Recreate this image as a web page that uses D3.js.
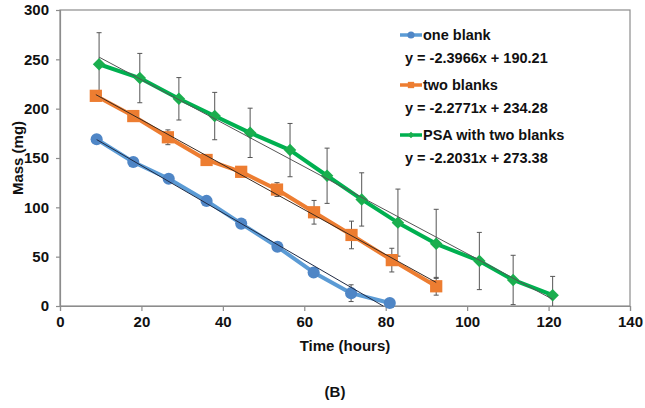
<!DOCTYPE html>
<html><head><meta charset="utf-8">
<script src="https://cdn.jsdelivr.net/npm/d3@7/dist/d3.min.js"></script>
<style>body{margin:0;background:#fff}svg{display:block}text{font-family:"Liberation Sans",Arial,sans-serif;font-weight:bold;fill:#111}</style>
</head><body><svg id="c" width="645" height="408"></svg>
<script>
// Data
const seriesNames = ["one blank", "two blanks", "PSA with two blanks"];
const equations = ["y = -2.3966x + 190.21", "y = -2.2771x + 234.28", "y = -2.2031x + 273.38"];
const slopes = [-2.3966, -2.2771, -2.2031];
const intercepts = [190.21, 234.28, 273.38];
const oneBlankX = [9, 18, 26.7, 36, 44.5, 53.4, 62.3, 71.5, 81];
const oneBlankY = [169, 146, 129, 106.5, 83.5, 60, 34, 13, 3];
const oneBlankErr = [2, 2, 2, 2, 2, 2, 3, 8.5, 2];
const twoBlanksX = [8.8, 18, 26.5, 36, 44.5, 53.3, 62.4, 71.6, 81.5, 92.4];
const twoBlanksY = [213, 192.5, 171, 148, 136, 118, 95, 72, 46.5, 20];
const twoBlanksErr = [3, 3, 7.5, 3, 3, 7, 12, 14, 12, 9];
const psaX = [9.6, 19.6, 29.2, 38, 46.7, 56.5, 65.6, 74.1, 83, 92.4, 103, 111.3, 121];
const psaY = [245, 231, 210, 192.5, 175.5, 158, 132, 108, 84.5, 63, 45.6, 26.4, 11];
const psaErr = [32, 25, 21.5, 24, 25, 27, 28, 27, 34, 35, 29, 25, 19];
const xTicks = [0, 20, 40, 60, 80, 100, 120, 140];
const yTicks = [0, 50, 100, 150, 200, 250, 300];
const trendRange = [[9, 79.4], [8.8, 92.4], [9.6, 121]];

const lineColors = ["#5b9bd5", "#ed7d31", "#00b050"];
const markColors = ["#4f86c6", "#ed7d31", "#1aae4e"];
const trendColors = ["#1f2a44", "#3a2a20", "#555"];

const svg = d3.select("#c");
const x = d3.scaleLinear().domain([0, 140]).range([60, 630]);
const y = d3.scaleLinear().domain([0, 300]).range([306, 10]);

// frame
svg.append("rect").attr("x", 60).attr("y", 10).attr("width", 570).attr("height", 296)
  .attr("fill", "none").attr("stroke", "#8c8c8c").attr("stroke-width", 1.2);

const xAxis = svg.append("g").attr("transform", "translate(0,306)")
  .call(d3.axisBottom(x).tickValues(xTicks).tickSize(5).tickPadding(5));
const yAxis = svg.append("g").attr("transform", "translate(60,0)")
  .call(d3.axisLeft(y).tickValues(yTicks).tickSize(4).tickPadding(7));
[xAxis, yAxis].forEach(a => {
  a.select(".domain").attr("stroke", "#8c8c8c").attr("stroke-width", 1.2);
  a.selectAll(".tick line").attr("stroke", "#8c8c8c").attr("stroke-width", 1.2);
  a.selectAll("text").style("font-size", "15px").style("font-weight", "bold")
    .style("font-family", '"Liberation Sans",Arial,sans-serif').attr("fill", "#111");
});

const data = [
  {xs: oneBlankX, ys: oneBlankY, es: oneBlankErr},
  {xs: twoBlanksX, ys: twoBlanksY, es: twoBlanksErr},
  {xs: psaX, ys: psaY, es: psaErr}
];
const line = d3.line().x(d => x(d[0])).y(d => y(d[1]));
const symbols = [d3.symbolCircle, d3.symbolSquare, d3.symbolSquare];
const symSizes = [115, 150, 78];
const rot = [0, 0, 45];

// error bars (behind markers)
data.forEach((s, i) => {
  const pts = s.xs.map((v, j) => [v, s.ys[j], s.es[j]]);
  const g = svg.append("g").attr("stroke", "#555").attr("stroke-width", 1);
  pts.forEach(d => {
    const lo = Math.max(0, d[1] - d[2]), hi = d[1] + d[2];
    g.append("line").attr("x1", x(d[0])).attr("x2", x(d[0])).attr("y1", y(lo)).attr("y2", y(hi));
    g.append("line").attr("x1", x(d[0]) - 2.5).attr("x2", x(d[0]) + 2.5).attr("y1", y(hi)).attr("y2", y(hi));
    if (d[1] - d[2] >= 0)
      g.append("line").attr("x1", x(d[0]) - 2.5).attr("x2", x(d[0]) + 2.5).attr("y1", y(lo)).attr("y2", y(lo));
  });
});

data.forEach((s, i) => {
  const pts = s.xs.map((v, j) => [v, s.ys[j], s.es[j]]);
  svg.append("path").datum(pts).attr("d", line).attr("fill", "none")
    .attr("stroke", lineColors[i]).attr("stroke-width", 4).attr("stroke-linejoin", "round");
  svg.append("g").selectAll("path").data(pts).join("path")
    .attr("transform", d => `translate(${x(d[0])},${y(d[1])}) rotate(${rot[i]})`)
    .attr("d", d3.symbol().type(symbols[i]).size(symSizes[i]))
    .attr("fill", markColors[i]);
});

// trend lines
slopes.forEach((m, i) => {
  const [a, b] = trendRange[i];
  svg.append("line").attr("x1", x(a)).attr("y1", y(m * a + intercepts[i]))
    .attr("x2", x(b)).attr("y2", y(m * b + intercepts[i]))
    .attr("stroke", trendColors[i]).attr("stroke-width", 1);
});

// legend
const lg = svg.append("g");
const legY = [35, 85, 135];
const legSizes = [40, 40, 22];
seriesNames.forEach((n, i) => {
  lg.append("line").attr("x1", 400).attr("x2", 422).attr("y1", legY[i]).attr("y2", legY[i])
    .attr("stroke", lineColors[i]).attr("stroke-width", 3.5);
  lg.append("path").attr("transform", `translate(411,${legY[i]}) rotate(${rot[i]})`)
    .attr("d", d3.symbol().type(symbols[i]).size(legSizes[i])).attr("fill", markColors[i]);
  lg.append("text").attr("x", 423).attr("y", legY[i] + 5).style("font-size", "14.5px").text(n);
  lg.append("text").attr("x", 405).attr("y", legY[i] + 28).style("font-size", "14.5px").text(equations[i]);
});

svg.append("text").attr("x", 345).attr("y", 351).attr("text-anchor", "middle").style("font-size", "15px").text("Time (hours)");
svg.append("text").attr("transform", "translate(23,158) rotate(-90)").attr("text-anchor", "middle").style("font-size", "15px").text("Mass (mg)");
svg.append("text").attr("x", 335).attr("y", 397).attr("text-anchor", "middle").style("font-size", "15px").text("(B)");
</script></body></html>
